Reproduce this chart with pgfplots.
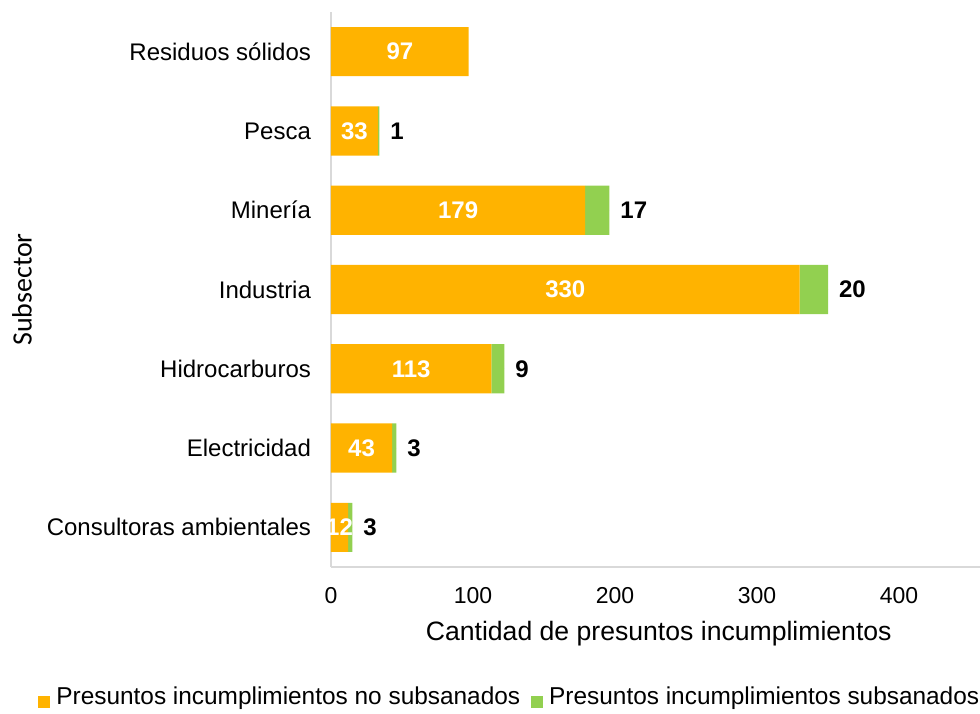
\documentclass[border=0pt]{standalone}
\usepackage{fontspec}
\setmainfont{Liberation Sans}
\newfontfamily\calibri{Carlito}
\usepackage{pgfplots}
\usepackage{pgfplotstable}
\pgfplotsset{compat=1.18}

\definecolor{naranja}{HTML}{FFB300}
\definecolor{verde}{HTML}{92D050}
\definecolor{eje}{HTML}{D9D9D9}

\pgfplotstableread[col sep=comma]{
idx,nombre,nosub,sub
0,Consultoras ambientales,12,3
1,Electricidad,43,3
2,Hidrocarburos,113,9
3,Industria,330,20
4,Minería,179,17
5,Pesca,33,1
6,Residuos sólidos,97,0
}\datos

\pgfplotsset{
  base/.style={
    width=324.5pt, height=277.5pt, scale only axis,
    at={(0,0)}, anchor=south west,
    xmin=0, xmax=457, ymin=-0.5, ymax=6.5,
    /pgf/number format/assume math mode=true,
  },
}

\begin{document}
\begin{tikzpicture}
\useasboundingbox (-165.5pt,-73pt) rectangle (324.5pt,283.5pt);

\begin{axis}[
    base,
    xbar stacked,
    bar width=0.62,
    axis x line*=bottom,
    axis y line*=left,
    axis line style={eje, line width=0.8pt},
    tick style={draw=none},
    xtick={0,100,...,400},
    ytick={0,...,6},
    yticklabels from table={\datos}{nombre},
    yticklabel style={font=\fontsize{12}{14}\selectfont, xshift=-6.5pt},
    xticklabel style={font=\fontsize{11.5}{14}\selectfont, yshift=-6.5pt},
    xlabel={Cantidad de presuntos incumplimientos},
    xlabel style={font=\fontsize{13.3}{16}\selectfont, at={(axis description cs:0.505,0)}, anchor=center, yshift=-33.5pt},
    ylabel={\calibri Subsector},
    ylabel style={font=\fontsize{14}{16}\selectfont, at={(axis description cs:-0.476,0.5)}, anchor=center},
    legend columns=2,
    legend style={draw=none, at={(0.277,-0.234)}, anchor=center,
      font=\fontsize{12.2}{14}\selectfont,
      /tikz/every even column/.append style={column sep=3.5pt}},
    legend image code/.code={\fill[#1] (0pt,-5.5pt) rectangle (6pt,0.5pt); \path (7pt,0pt);},
]
\addplot[fill=naranja, draw=none] table[x=nosub, y=idx]{\datos};
\addplot[fill=verde, draw=none] table[x=sub, y=idx]{\datos};
\legend{Presuntos incumplimientos no subsanados, Presuntos incumplimientos subsanados}
\end{axis}

\begin{axis}[base, hide axis]
\addplot[only marks, mark=*, mark size=0pt, mark options={draw=none, fill=none},
  nodes near coords, point meta=\thisrow{nosub},
  nodes near coords style={font=\fontsize{12}{14}\selectfont\bfseries, text=white, anchor=center,
    /pgf/number format/assume math mode=true}]
  table[x expr=\thisrow{nosub}/2, y=idx]{\datos};
\addplot[only marks, mark=*, mark size=0pt, mark options={draw=none, fill=none},
  skip coords between index={6}{7},
  nodes near coords, point meta=\thisrow{sub},
  nodes near coords style={font=\fontsize{12}{14}\selectfont\bfseries, text=black, anchor=west, xshift=2pt,
    /pgf/number format/assume math mode=true}]
  table[x expr=\thisrow{nosub}+\thisrow{sub}, y=idx]{\datos};
\end{axis}
\end{tikzpicture}
\end{document}
